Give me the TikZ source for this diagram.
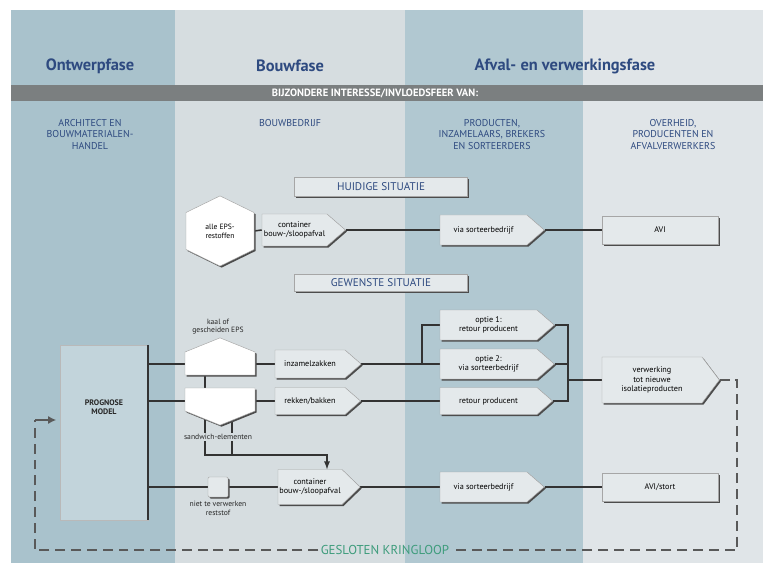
\documentclass[tikz,border=0pt]{standalone}
\usepackage{fontspec}
\setmainfont{PT Sans}
\usetikzlibrary{shapes.symbols,shadows,arrows.meta}
\definecolor{kolblauw}{HTML}{A9C2CC}
\definecolor{kollicht}{HTML}{D6DDE0}
\definecolor{kopblauw}{HTML}{2E4A80}
\definecolor{vakgrijs}{HTML}{E4E9EB}
\definecolor{balkgrijs}{HTML}{7B7F80}
\definecolor{kringgroen}{HTML}{3E9C7C}
\pgfdeclarelayer{achter}
\pgfdeclarelayer{lijnen}
\pgfsetlayers{achter,lijnen,main}
\begin{document}
\begin{tikzpicture}[x=0.03cm,y=-0.03cm,
  fase/.style={font=\bfseries\fontsize{14}{16}\selectfont,text=kopblauw},
  partij/.style={font=\fontsize{8.5}{10}\selectfont,text=kopblauw,align=center,anchor=north},
  schaduw/.style={drop shadow={shadow xshift=1.3pt,shadow yshift=-1.3pt,fill=black!70,opacity=1}},
  vaktekst/.style={font=\fontsize{7}{7.8}\selectfont,align=center,text=black,inner sep=0pt},
  vak/.style={draw=gray!70,fill=vakgrijs,line width=0.4pt,schaduw,vaktekst,inner sep=1pt},
  pijlvak/.style={draw=gray!70,fill=vakgrijs,line width=0.4pt,schaduw,shape=signal,signal to=east,signal pointer angle=82,inner xsep=1.3cm,inner ysep=0.45cm},
  witvorm/.style={draw=gray!70,fill=white,line width=0.4pt,schaduw,shape=signal,inner xsep=1.05cm},
  kop/.style={vak,font=\fontsize{9.5}{10}\selectfont,text=kopblauw,minimum width=5.19cm},
  klein/.style={font=\fontsize{6.5}{7.5}\selectfont,align=center,text=black!85,inner sep=1pt},
  lijn/.style={line width=1.3pt,draw=black!80},
  kring/.style={line width=1.6pt,draw=black!65,dash pattern=on 8.5pt off 5pt}
]
\useasboundingbox (0,0) rectangle (768,570);
% de vier kolommen
\begin{pgfonlayer}{achter}
\fill[kolblauw] (11,10) rectangle (175,563);
\fill[kollicht] (175,10) rectangle (405,563);
\fill[kolblauw!90!white] (405,10) rectangle (583,563);
\fill[kollicht!75!white] (583,10) rectangle (763,563);
\end{pgfonlayer}
%% koppen
\node[fase] (ontwerp) at (90,66) {Ontwerpfase};
\node[fase] (bouw) at (290,66) {Bouwfase};
\node[fase] (afval) at (565,66) {Afval- en verwerkingsfase};
\fill[balkgrijs] (11,85) rectangle (763,101);
\node[font=\bfseries\fontsize{9}{10}\selectfont,text=white] (balk) at (375,93) {BIJZONDERE INTERESSE/INVLOEDSFEER VAN:};
\node[partij] (architect) at (90,115) {ARCHITECT EN\\BOUWMATERIALEN-\\HANDEL};
\node[partij] (bedrijf) at (290,115) {BOUWBEDRIJF};
\node[partij] (producten) at (492,115) {PRODUCTEN,\\INZAMELAARS, BREKERS\\EN SORTEERDERS};
\node[partij] (overheid) at (673,115) {OVERHEID,\\PRODUCENTEN EN\\AFVALVERWERKERS};
%% huidige situatie
\node[kop,minimum height=0.57cm] (huidig) at (381,187) {HUIDIGE SITUATIE};
\node[witvorm,signal to=north and south,signal pointer angle=128,inner xsep=1.02cm,inner ysep=0.555cm,
  label={[vaktekst,font=\fontsize{6.5}{7.5}\selectfont]center:alle EPS-\\restoffen}] (alleeps) at (220,231) {};
\node[pijlvak,inner xsep=0.975cm,inner ysep=0.48cm,label={[vaktekst]center:container\\bouw-/sloopafval}] (container1) at (294.5,230) {};
\node[pijlvak,inner xsep=1.305cm,label={[vaktekst]center:via sorteerbedrijf}] (sorteer1) at (483.5,230) {};
\node[vak,minimum width=3.48cm,minimum height=0.84cm] (avi1) at (660,230) {AVI};
%% gewenste situatie
\node[kop,minimum height=0.51cm] (gewenst) at (381,283) {GEWENSTE SITUATIE};
\node[draw=gray!55,fill=white,fill opacity=0.3,minimum width=2.64cm,minimum height=5.25cm] (model) at (104,432.5) {};
\draw[lijn,line width=2pt] (model.north east) -- (model.south east);
\node[font=\bfseries\fontsize{6.8}{7.6}\selectfont,align=center,text=black!85] (prognose) at (104,407) {PROGNOSE\\MODEL};
\node[witvorm,signal to=north,signal pointer angle=136,inner ysep=0.345cm] (kaal) at (220,363.5) {};
\node[klein,anchor=south] (kaallabel) at (218,336) {kaal of\\gescheiden EPS};
\node[witvorm,signal to=south,signal pointer angle=136,inner ysep=0.345cm] (sandwich) at (220,399.5) {};
\node[klein,fill=kollicht] (sandwichlabel) at (218,437) {sandwich-elementen};
\node[pijlvak,inner xsep=1.05cm,inner ysep=0.42cm,label={[vaktekst]center:inzamelzakken}] (inzamel) at (310,364) {};
\node[pijlvak,inner xsep=1.05cm,inner ysep=0.405cm,label={[vaktekst]center:rekken/bakken}] (rekken) at (310,401) {};
\node[pijlvak,inner xsep=1.455cm,label={[vaktekst]center:optie 1:\\retour producent}] (optie1) at (488.5,325) {};
\node[pijlvak,inner xsep=1.455cm,label={[vaktekst]center:optie 2:\\via sorteerbedrijf}] (optie2) at (488.5,364) {};
\node[pijlvak,inner xsep=1.455cm,inner ysep=0.405cm,label={[vaktekst]center:retour producent}] (retour) at (488.5,401) {};
\node[pijlvak,signal pointer angle=106,inner xsep=1.5cm,inner ysep=0.69cm,label={[vaktekst]center:verwerking\\tot nieuwe\\isolatieproducten}] (verwerk) at (652,380) {};
%% onderste rij
\node[draw=gray!70,fill=vakgrijs,rounded corners=1pt,schaduw,minimum size=0.6cm] (rest) at (218,487) {};
\node[klein,anchor=north] (restlabel) at (218,500) {niet te verwerken\\reststof};
\node[pijlvak,signal pointer angle=88,inner xsep=0.96cm,inner ysep=0.525cm,label={[vaktekst]center:container\\bouw-/sloopafval}] (container2) at (310,487) {};
\node[pijlvak,inner xsep=1.305cm,label={[vaktekst]center:via sorteerbedrijf}] (sorteer2) at (483.5,487) {};
\node[vak,minimum width=3.48cm,minimum height=0.84cm] (avi2) at (660,487) {AVI/stort};
\node[font=\fontsize{11}{12}\selectfont,text=kringgroen,inner sep=2pt] (kring) at (385,550) {GESLOTEN KRINGLOOP};
%% verbindingen
\coordinate (splits) at (422,364);
\coordinate (samen) at (568,380);
\coordinate (sw1) at (205,455);
\coordinate (sw2) at (232,455);
\coordinate (sw3) at (327,455);
\coordinate (lus1) at (737,380);
\coordinate (lus2) at (737,550);
\coordinate (lus3) at (35,550);
\coordinate (lus4) at (35,420);
\begin{pgfonlayer}{lijnen}
\draw[lijn] (alleeps.east) -- (container1.west);
\draw[lijn] (container1.east) -- (sorteer1.west);
\draw[lijn] (sorteer1.east) -- (avi1.west);
\draw[lijn] (model.east |- inzamel) -- (inzamel.west);
\draw[lijn] (model.east |- rekken) -- (rekken.west);
\draw[lijn] (kaal.south -| sw1) -- (sandwich.north -| sw1);
\draw[lijn,-latex] (sandwich.center -| sw1) -- (sw1) -- (sw3) -- (container2.north -| sw3);
\draw[lijn] (sandwich.center -| sw2) -- (sw2);
\draw[lijn] (inzamel.east) -- (optie2.west);
\draw[lijn] (splits) |- (optie1.west);
\draw[lijn] (rekken.east) -- (retour.west);
\draw[lijn] (optie1.east) -| (samen);
\draw[lijn] (optie2.east) -| (samen);
\draw[lijn] (retour.east) -| (samen);
\draw[lijn] (samen) -- (verwerk.west);
\draw[lijn] (model.east |- rest) -- (rest.west);
\draw[lijn] (rest.east) -- (container2.west);
\draw[lijn] (container2.east) -- (sorteer2.west);
\draw[lijn] (sorteer2.east) -- (avi2.west);
% de gesloten kringloop
\draw[kring] (verwerk.east) -- (lus1) -- (lus2) -- (kring.east);
\draw[kring] (kring.west) -- (lus3) -- (lus4);
\draw[line width=1.6pt,draw=black!65,-{Latex[length=7pt,width=7pt]}] (lus4) -- ([xshift=-3pt]model.west |- lus4);
\end{pgfonlayer}
\end{tikzpicture}
\end{document}
